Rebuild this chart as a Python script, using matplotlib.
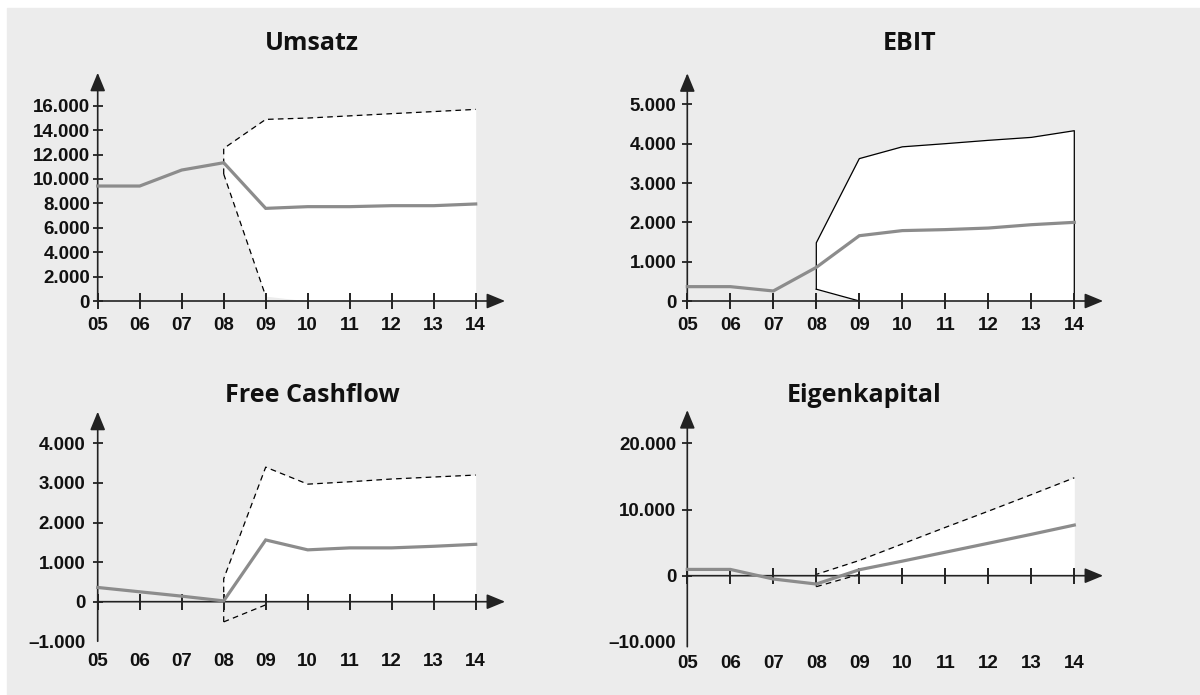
import numpy as np
import matplotlib.pyplot as plt
from matplotlib.patches import Rectangle

W, H = 1200, 695

# Jahre 05..14, Prognose ab 08
years = np.arange(5, 15)
year_labels = [f"{y:02d}" for y in years]
fc_years = years[3:]

# Umsatz
umsatz = [9420, 9420, 10730, 11330, 7590, 7730, 7730, 7810, 7810, 7950]
umsatz_hi = [12500, 14880, 14990, 15170, 15350, 15520, 15700]
umsatz_lo = [10400, 400, 0, 0, 0, 0, 0]
umsatz_ticks = [0, 2000, 4000, 6000, 8000, 10000, 12000, 14000, 16000]

# EBIT
ebit = [365, 365, 255, 855, 1660, 1790, 1815, 1855, 1940, 2000]
ebit_hi = [1480, 3620, 3920, 4000, 4085, 4160, 4330]
ebit_lo = [300, 0]
ebit_ticks = [0, 1000, 2000, 3000, 4000, 5000]

# Free Cashflow
fcf = [360, 250, 140, 20, 1560, 1310, 1360, 1360, 1400, 1450]
fcf_hi = [580, 3400, 2970, 3030, 3100, 3150, 3200]
fcf_lo = [-510, -80]
fcf_ticks = [0, 1000, 2000, 3000, 4000]
fcf_extra = [-1000]

# Eigenkapital
ek = [950, 950, -500, -1260, 900, 2200, 3550, 4900, 6250, 7650]
ek_hi = [200, 2300, 4800, 7300, 9750, 12250, 14800]
ek_lo = [-1660, 200]
ek_ticks = [0, 10000, 20000]
ek_extra = [-10000]

plt.rcParams['font.family'] = ['Liberation Sans', 'DejaVu Sans']
plt.rcParams['font.size'] = 13.5
plt.rcParams['font.weight'] = 'bold'

AX = '#222222'
GREY = '#8c8c8c'


def fmt(v):
    s = f"{abs(v):,.0f}".replace(",", ".")
    return "\u2013" + s if v < 0 else s


def make_axes(fig, px5, px14, py0, ppu, xlim, ylim):
    sx = (px14 - px5) / 9
    left = px5 + (xlim[0] - 5) * sx
    right = px5 + (xlim[1] - 5) * sx
    top = py0 - ylim[1] * ppu
    bottom = py0 - ylim[0] * ppu
    ax = fig.add_axes([left / W, 1 - bottom / H, (right - left) / W, (bottom - top) / H])
    ax.set_xlim(xlim)
    ax.set_ylim(ylim)
    ax.patch.set_visible(False)
    for s in ax.spines.values():
        s.set_visible(False)
    return ax


def panel(ax, actual, hi, lo, ticks, extra, y_bot, y_top, x_top, solid, xpad, ypad):
    # weisse Spanne
    base = np.zeros(len(fc_years))
    base[:len(lo)] = np.maximum(lo, 0)
    ax.fill_between(fc_years, base, hi, color='white', lw=0, zorder=1)

    # Raender
    if solid:
        kw = dict(color='black', lw=0.9, ls='-')
    else:
        kw = dict(color='black', lw=0.9, ls=(0, (4.5, 3.4)))
    ux = [fc_years[0]] + list(fc_years)
    uy = [lo[0]] + list(hi)
    if solid:
        ux = ux + [fc_years[-1]]
        uy = uy + [0]
    ax.plot(ux, uy, zorder=2, clip_on=False, **kw)
    ax.plot(fc_years[:2], lo[:2], zorder=2, clip_on=False, **kw)

    # Ist/Plan-Linie
    ax.plot(years, actual, color=GREY, lw=2.3, zorder=4, clip_on=False,
            solid_joinstyle='miter')

    # Achsen mit Pfeilen
    arrow = dict(arrowstyle='-|>,head_length=0.8,head_width=0.33', mutation_scale=14,
                 lw=1.2, color=AX, shrinkA=0, shrinkB=0)
    ax.annotate('', xy=(x_top, 0), xytext=(5, 0), arrowprops=arrow,
                annotation_clip=False, zorder=3)
    ax.annotate('', xy=(5, y_top), xytext=(5, y_bot), arrowprops=arrow,
                annotation_clip=False, zorder=3)
    ax.plot(years, np.zeros(len(years)), ls='none', marker='|', ms=11, mew=1.4,
            color=AX, zorder=3, clip_on=False)
    ax.plot(np.full(len(ticks), 5), ticks, ls='none', marker='_', ms=7.5, mew=1.3,
            color=AX, zorder=3, clip_on=False)

    yt = list(extra) + list(ticks)
    ax.set_xticks(years, year_labels)
    ax.set_yticks(yt, [fmt(v) for v in yt])
    ax.tick_params(axis='x', length=0, pad=xpad, labelcolor='#111111')
    ax.tick_params(axis='y', length=0, pad=ypad, labelcolor='#111111')


fig = plt.figure(figsize=(W / 100, H / 100), dpi=100, facecolor='white')
fig.patches.append(Rectangle((7 / W, 0), 1 - 7 / W, 1 - 8 / H, transform=fig.transFigure,
                             color='#ececec', zorder=-10))

ax1 = make_axes(fig, 97.7, 475.7, 301, 24.41 / 2000, (5, 14.8), (0, 19000))
panel(ax1, umsatz, umsatz_hi, umsatz_lo, umsatz_ticks, [], 0, 18700, 14.7, False, 11.5, 5.5)

ax2 = make_axes(fig, 687.3, 1074.3, 301, 39.33 / 1000, (5, 14.8), (0, 5900))
panel(ax2, ebit, ebit_hi, ebit_lo, ebit_ticks, [], 0, 5790, 14.67, True, 11.5, 8)

ax3 = make_axes(fig, 97.7, 475.7, 601.7, 39.58 / 1000, (5, 14.8), (-1000, 4900))
panel(ax3, fcf, fcf_hi, fcf_lo, fcf_ticks, fcf_extra, -1000, 4800, 14.7, False, 8.6, 9)

ax4 = make_axes(fig, 687.3, 1074.3, 575.7, 66.17 / 10000, (5, 14.8), (-10730, 25100))
panel(ax4, ek, ek_hi, ek_lo, ek_ticks, ek_extra, -10730, 25030, 14.67, False, 6, 8)

titles = ["Umsatz", "EBIT", "Free Cashflow", "Eigenkapital"]
title_pos = [(312, 50), (910, 50), (312, 402), (864, 402)]
for t, (tx, ty) in zip(titles, title_pos):
    fig.text(tx / W, 1 - ty / H, t, ha='center', va='baseline', fontsize=18,
             fontweight='bold', family=['Open Sans', 'DejaVu Sans'], color='#111111')

fig.savefig('out.png', dpi=100, facecolor='white')
